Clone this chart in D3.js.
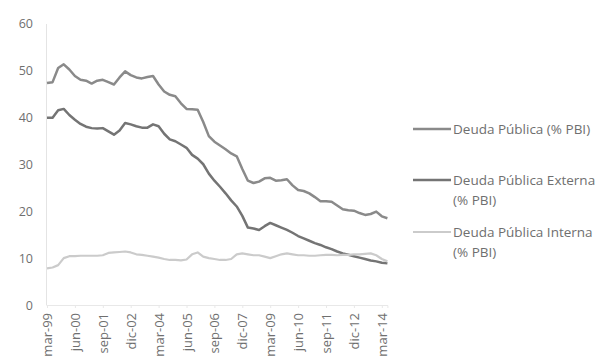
<!DOCTYPE html>
<html>
<head>
<meta charset="utf-8">
<script src="https://cdn.jsdelivr.net/npm/d3@7"></script>
<style>
  html, body { margin: 0; padding: 0; background: #fff; }
  svg { display: block; }
  text { font-family: "Open Sans", "Liberation Sans", sans-serif; fill: #6f6f6f; }
</style>
</head>
<body>
<svg id="chart" width="611" height="362"></svg>
<script>
// Quarterly observations, March 1999 to June 2014
const monthNames = ["mar", "jun", "sep", "dic"];
const quarters = [];
for (let y = 1999; y <= 2014; y++) {
  for (const m of monthNames) {
    if (y === 2014 && (m === "sep" || m === "dic")) continue;
    quarters.push(m + "-" + String(y % 100).padStart(2, "0"));
  }
}

const tickLabels = ["mar-99", "jun-00", "sep-01", "dic-02", "mar-04", "jun-05", "sep-06",
                    "dic-07", "mar-09", "jun-10", "sep-11", "dic-12", "mar-14"];
const yTicks = [0, 10, 20, 30, 40, 50, 60];

// Deuda Pública total (% PBI)
const deudaTotal = [
  47.3, 47.5, 50.5, 51.3, 50.2, 48.8, 48.0, 47.8, 47.2, 47.8,
  48.0, 47.5, 47.0, 48.5, 49.8, 49.0, 48.5, 48.3, 48.6, 48.8,
  47.0, 45.5, 44.8, 44.5, 43.0, 41.8, 41.7, 41.6, 39.0, 36.0,
  34.8, 34.0, 33.2, 32.3, 31.7, 29.0, 26.5, 26.0, 26.3, 27.0,
  27.1, 26.5, 26.6, 26.8, 25.5, 24.5, 24.3, 23.8, 23.0, 22.1,
  22.1, 22.0, 21.2, 20.4, 20.2, 20.1, 19.6, 19.2, 19.4, 19.9,
  18.9, 18.5
];

// Deuda Pública Externa (% PBI)
const deudaExterna = [
  39.9, 39.9, 41.5, 41.8, 40.5, 39.5, 38.6, 38.0, 37.7, 37.6,
  37.7, 37.0, 36.3, 37.2, 38.8, 38.5, 38.1, 37.8, 37.8, 38.5,
  38.1, 36.5, 35.3, 34.9, 34.2, 33.5, 32.0, 31.2, 30.0, 28.0,
  26.5, 25.2, 23.8, 22.3, 21.0, 19.0, 16.5, 16.3, 16.0, 16.8,
  17.5, 17.0, 16.5, 16.0, 15.4, 14.7, 14.2, 13.7, 13.2, 12.8,
  12.3, 11.9, 11.4, 11.0, 10.7, 10.4, 10.1, 9.8, 9.5, 9.3,
  9.0, 8.9
];

// Deuda Pública Interna (% PBI)
const deudaInterna = [
  7.8, 8.0, 8.5, 10.0, 10.4, 10.4, 10.5, 10.5, 10.5, 10.5,
  10.6, 11.1, 11.2, 11.3, 11.4, 11.2, 10.8, 10.7, 10.5, 10.3,
  10.1, 9.8, 9.6, 9.6, 9.5, 9.7, 10.8, 11.2, 10.3, 10.0,
  9.8, 9.6, 9.6, 9.8, 10.8, 11.0, 10.8, 10.6, 10.6, 10.3,
  10.0, 10.4, 10.8, 11.0, 10.8, 10.6, 10.6, 10.5, 10.5, 10.6,
  10.7, 10.7, 10.6, 10.7, 10.7, 10.8, 10.8, 10.9, 11.0, 10.6,
  9.8, 9.3
];

const series = [
  { name: ["Deuda Pública (% PBI)"], values: deudaTotal, color: "#8a8a8a", width: 2.5 },
  { name: ["Deuda Pública Externa", "(% PBI)"], values: deudaExterna, color: "#747474", width: 2.5 },
  { name: ["Deuda Pública Interna", "(% PBI)"], values: deudaInterna, color: "#cbcbcb", width: 2.2 }
];

const svg = d3.select("#chart");

const x = d3.scalePoint().domain(quarters).range([47, 387.4]);
const y = d3.scaleLinear().domain([0, 60]).range([305, 23.5]);

// Axes
const yAxis = d3.axisLeft(y).tickValues(yTicks).tickSize(0).tickPadding(13);
const gy = svg.append("g").attr("transform", "translate(46,0)").call(yAxis);
gy.select(".domain").attr("stroke", "#e4e4e4").attr("stroke-width", 1);
gy.selectAll("text").style("font-size", "12.5px").attr("fill", "#707070");

const xAxis = d3.axisBottom(x).tickValues(tickLabels).tickSize(3).tickPadding(6);
const gx = svg.append("g").attr("transform", `translate(0,${y(0)})`).call(xAxis);
gx.select(".domain").attr("stroke", "#e8e8e8").attr("stroke-width", 1);
gx.selectAll(".tick line").attr("stroke", "#e8e8e8");
gx.selectAll("text")
  .style("font-size", "13px")
  .attr("fill", "#707070")
  .attr("text-anchor", "end")
  .attr("transform", "rotate(-90)")
  .attr("x", -8)
  .attr("y", 0)
  .attr("dy", "0.35em");

// Lines
const line = d3.line()
  .x((d, i) => x(quarters[i]))
  .y(d => y(d));

svg.append("g").selectAll("path")
  .data(series)
  .join("path")
  .attr("fill", "none")
  .attr("stroke", d => d.color)
  .attr("stroke-width", d => d.width)
  .attr("stroke-linejoin", "round")
  .attr("d", d => line(d.values));

// Legend
const legendY = [129, 180, 232];
const legend = svg.append("g");
series.forEach((s, i) => {
  const g = legend.append("g").attr("transform", `translate(413,${legendY[i]})`);
  g.append("line").attr("x1", 0).attr("x2", 38).attr("y1", 0).attr("y2", 0)
    .attr("stroke", s.color).attr("stroke-width", s.width);
  s.name.forEach((t, j) => {
    g.append("text").attr("x", 40).attr("y", j * 20).attr("dy", "0.35em")
      .style("font-size", "13.5px").attr("fill", "#6a6a6a").text(t);
  });
});
</script>
</body>
</html>
